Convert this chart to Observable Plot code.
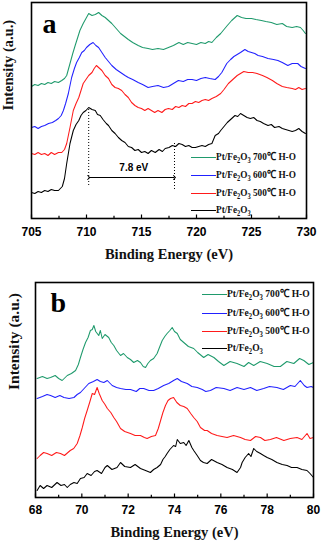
<!DOCTYPE html>
<html><head><meta charset="utf-8">
<script src="https://cdn.jsdelivr.net/npm/d3@7"></script>
<script src="https://cdn.jsdelivr.net/npm/@observablehq/plot@0.6"></script>
<style>
body{margin:0;background:#fff;}
#wrap{position:relative;width:321px;height:542px;overflow:hidden;background:#fff}
.panel{position:absolute;left:0}
.leg{position:absolute;font-family:"Liberation Serif","Times New Roman",serif;font-weight:bold;font-size:11px;white-space:nowrap;height:14px;line-height:14px;color:#111}
.leg .sw{display:inline-block;width:25px;height:1.6px;vertical-align:middle}
.leg .tx{display:inline-block;transform-origin:0 50%}
.leg sub{font-size:0.7em;vertical-align:baseline;position:relative;top:0.35em;line-height:0}
</style></head>
<body><div id="wrap"></div>
<script>
// ---------- Panel a : Fe 2p ----------
const aTicks = [705, 710, 715, 720, 725, 730];
const aMinor = [707.5, 712.5, 717.5, 722.5, 727.5];
const aBlack = [[705.0,26],[705.3,25],[705.6,27],[705.9,26],[706.2,28],[706.5,27],[706.8,29],[707.1,28],[707.45,28],[707.8,32],[708.0,40],[708.2,55],[708.5,75],[708.8,88],[709.05,94],[709.3,98],[709.5,103],[709.7,106],[709.95,108],[710.2,111],[710.5,109],[710.8,108],[711.0,104],[711.25,103],[711.5,99],[711.8,95],[712.0,93],[712.3,88],[712.6,85],[712.9,81],[713.2,78],[713.5,76],[713.8,72],[714.1,71],[714.4,68],[714.7,69],[715.0,66],[715.3,67],[715.6,65],[715.9,68],[716.25,66],[716.6,69],[716.9,67],[717.15,70],[717.5,71],[717.8,73],[718.1,72],[718.4,75],[718.7,74],[719.0,72],[719.3,73],[719.6,71],[719.9,71],[720.2,72],[720.5,73],[720.8,72],[721.1,74],[721.4,75],[721.7,83],[722.0,85],[722.2,88],[722.5,92],[722.8,96],[723.1,99],[723.5,103],[723.75,102],[724.0,105],[724.3,103],[724.6,101],[724.9,100],[725.2,101],[725.5,98],[725.8,97],[726.1,95],[726.5,93],[726.8,94],[727.1,91],[727.5,92],[727.8,90],[728.1,89],[728.4,88],[728.7,87],[729.0,88],[729.3,90],[729.6,87],[729.9,85]];
const aRed = [[705.0,65],[705.3,64],[705.6,66],[705.9,64],[706.2,65],[706.5,63],[706.8,66],[707.1,64],[707.45,66],[707.75,66],[708.0,69],[708.2,75],[708.5,91],[708.8,108],[709.05,115],[709.3,121],[709.5,128],[709.7,135],[709.95,139],[710.2,143],[710.5,146],[710.7,150],[710.9,153],[711.1,151],[711.4,148],[711.7,143],[712.0,140],[712.3,134],[712.6,131],[712.9,130],[713.2,128],[713.5,124],[713.8,121],[714.1,116],[714.4,113],[714.7,111],[715.0,110],[715.3,108],[715.6,110],[715.9,108],[716.2,106],[716.5,108],[716.85,106],[717.15,109],[717.45,110],[717.8,109],[718.1,112],[718.4,111],[718.7,113],[719.0,112],[719.3,115],[719.6,115],[719.9,117],[720.2,116],[720.5,118],[720.8,119],[721.1,118],[721.4,120],[721.8,122],[722.2,125],[722.5,129],[722.9,135],[723.3,139],[723.7,143],[724.0,145],[724.3,147],[724.7,146],[725.1,146],[725.5,145],[726.0,143],[726.4,141],[726.9,138],[727.3,135],[727.8,132],[728.2,131],[728.7,130],[729.0,129],[729.3,131],[729.6,129],[729.9,130]];
const aBlue = [[705.0,91],[705.3,92],[705.6,90],[705.9,92],[706.2,93],[706.55,95],[706.9,96],[707.2,98],[707.45,100],[707.7,103],[707.9,108],[708.1,115],[708.35,125],[708.65,141],[708.9,150],[709.1,156],[709.35,161],[709.57,166],[709.8,168],[710.0,171],[710.3,174],[710.6,176],[710.85,173],[711.1,171],[711.4,166],[711.7,161],[712.0,157],[712.3,153],[712.7,149],[713.1,146],[713.5,143],[713.8,141],[714.2,139],[714.7,136],[715.1,134],[715.6,131],[716.0,132],[716.5,133],[717.0,131],[717.45,132],[717.9,135],[718.35,138],[718.8,137],[719.2,139],[719.6,139],[720.0,138],[720.4,140],[720.8,141],[721.2,140],[721.7,139],[722.0,142],[722.3,146],[722.75,155],[723.1,159],[723.4,162],[723.7,164],[724.0,166],[724.4,169],[724.7,167],[725.0,166],[725.3,165],[725.6,163],[726.0,162],[726.5,160],[727.0,159],[727.4,158],[727.8,156],[728.3,153],[728.7,155],[729.2,155],[729.5,152],[729.9,150]];
const aGreen = [[705.0,132],[705.3,134],[705.6,133],[705.9,135],[706.2,134],[706.5,136],[706.8,135],[707.1,137],[707.45,136],[707.75,138],[708.0,140],[708.2,143],[708.5,155],[708.75,165],[708.97,173],[709.2,181],[709.4,188],[709.7,195],[709.95,200],[710.2,205],[710.5,203],[710.8,204],[711.1,206],[711.4,203],[711.7,201],[712.0,198],[712.3,195],[712.7,190],[713.1,185],[713.45,182],[713.8,179],[714.2,176],[714.7,173],[715.1,171],[715.6,170],[716.0,169],[716.5,170],[717.0,169],[717.45,171],[717.9,173],[718.4,176],[718.8,174],[719.2,176],[719.6,175],[720.0,174],[720.4,176],[720.8,175],[721.1,177],[721.4,176],[721.8,181],[722.2,185],[722.5,189],[722.8,193],[723.2,198],[723.7,203],[724.1,201],[724.5,200],[725.0,200],[725.4,199],[725.9,198],[726.3,197],[726.8,196],[727.3,194],[727.8,195],[728.2,192],[728.7,191],[729.1,192],[729.45,191],[729.7,188],[729.9,185]];
// annotation: satellite separation
const aDotted = [{x: 710.2, y1: 33, y2: 110}, {x: 718.0, y1: 29, y2: 75}];
const aArrow = {x1: 710.2, x2: 718.0, y: 41};
const aArrowLabel = {x: 714.3, y: 48, text: "7.8 eV"};

// ---------- Panel b : Pt 4f ----------
const bTicks = [68, 70, 72, 74, 76, 78, 80];
const bMinor = [69, 71, 73, 75, 77, 79];
const bGreen = [[68.07,119],[68.3,121],[68.5,119],[68.65,120],[68.85,122],[69.0,119],[69.15,117],[69.37,122],[69.55,124],[69.73,127],[69.85,133],[69.94,140],[70.05,148],[70.16,155],[70.27,160],[70.37,167],[70.45,168],[70.52,172],[70.6,166],[70.73,162],[70.8,167],[70.88,159],[71.0,163],[71.16,160],[71.27,155],[71.38,152],[71.5,147],[71.67,142],[71.8,144],[71.96,140],[72.1,138],[72.24,135],[72.4,137],[72.53,135],[72.65,131],[72.75,130],[72.85,134],[72.96,137],[73.1,139],[73.25,144],[73.35,150],[73.47,157],[73.58,161],[73.68,164],[73.8,167],[73.9,170],[74.0,166],[74.12,164],[74.25,158],[74.4,155],[74.6,151],[74.83,149],[75.0,145],[75.26,140],[75.45,143],[75.7,140],[75.9,136],[76.13,132],[76.4,136],[76.7,134],[77.0,131],[77.2,135],[77.42,132],[77.7,136],[78.0,134],[78.3,131],[78.57,131],[78.85,136],[79.15,134],[79.4,139],[79.58,137],[79.8,133],[80.0,135]];
const bBlue = [[68.07,99],[68.3,101],[68.5,103],[68.65,102],[68.85,100],[69.05,102],[69.23,100],[69.45,99],[69.66,100],[69.8,103],[69.94,105],[70.1,109],[70.3,114],[70.5,116],[70.66,118],[70.8,116],[70.95,115],[71.1,117],[71.31,112],[71.5,110],[71.67,109],[71.9,108],[72.1,108],[72.35,106],[72.5,109],[72.67,109],[72.9,107],[73.1,107],[73.3,109],[73.53,112],[73.75,114],[73.96,117],[74.12,119],[74.3,116],[74.55,114],[74.75,111],[74.98,110],[75.2,108],[75.35,106],[75.55,107],[75.8,110],[76.13,109],[76.4,107],[76.7,110],[77.0,108],[77.28,110],[77.55,107],[77.85,109],[78.1,111],[78.42,110],[78.7,108],[79.0,112],[79.2,111],[79.43,117],[79.6,112],[79.72,110],[79.9,111],[80.0,110]];
const bRed = [[68.07,39],[68.2,42],[68.35,45],[68.5,44],[68.7,42],[68.9,45],[69.08,44],[69.25,42],[69.4,45],[69.5,47],[69.65,49],[69.8,54],[69.92,62],[70.02,70],[70.12,79],[70.23,87],[70.35,96],[70.45,104],[70.55,103],[70.66,110],[70.75,104],[70.88,97],[71.0,93],[71.1,89],[71.25,85],[71.38,80],[71.5,76],[71.67,69],[71.85,66],[72.1,64],[72.3,62],[72.53,62],[72.7,60],[72.82,59],[73.0,61],[73.18,62],[73.3,69],[73.4,77],[73.5,85],[73.61,92],[73.72,97],[73.83,99],[73.96,100],[74.1,95],[74.25,92],[74.4,91],[74.55,89],[74.7,84],[74.83,80],[74.98,76],[75.12,70],[75.3,67],[75.41,67],[75.6,64],[75.84,62],[76.05,61],[76.27,60],[76.55,62],[76.85,60],[77.05,58],[77.28,57],[77.5,61],[77.71,60],[77.9,57],[78.14,58],[78.4,60],[78.72,57],[79.0,59],[79.29,60],[79.5,58],[79.72,64],[79.85,59],[80.0,60]];
const bBlack = [[68.07,7],[68.2,12],[68.35,9],[68.5,12],[68.7,10],[68.93,15],[69.1,12],[69.25,13],[69.37,10],[69.5,13],[69.66,15],[69.8,14],[69.94,19],[70.1,20],[70.23,24],[70.4,22],[70.55,26],[70.66,27],[70.85,24],[71.0,30],[71.1,32],[71.3,28],[71.52,30],[71.67,35],[71.85,31],[72.1,30],[72.3,33],[72.53,29],[72.75,27],[72.96,25],[73.1,28],[73.25,30],[73.4,33],[73.5,38],[73.6,41],[73.68,44],[73.8,48],[73.96,52],[74.05,51],[74.12,58],[74.25,54],[74.4,55],[74.5,52],[74.62,57],[74.75,50],[74.83,47],[74.98,42],[75.12,37],[75.25,35],[75.41,34],[75.6,38],[75.84,35],[76.05,33],[76.27,30],[76.5,28],[76.7,25],[76.85,30],[76.92,35],[77.05,40],[77.2,44],[77.3,41],[77.42,49],[77.55,46],[77.71,44],[77.85,42],[78.0,40],[78.2,38],[78.42,35],[78.65,33],[78.86,32],[79.05,30],[79.29,30],[79.5,28],[79.72,27],[79.85,24],[80.0,20]];

const seriesNames = ["700℃ H-O", "600℃ H-O", "500℃ H-O", ""];
const colors = ["#1f9a6c", "#2121ff", "#ff1a1a", "#000000"];
const xTitle = "Binding Energy (eV)";
const yTitle = "Intensity (a.u.)";

const serif = "Liberation Serif, Times New Roman, serif";
const sans = "Liberation Sans, Arial, sans-serif";

function panel({series, ticks, minor, domain, yMax, height, mt, mb, ml, mr, letter, letterDx, letterDy, yDx, titleDy, tickPad, yFont, extra}) {
  const marks = [];
  series.forEach((s, i) => marks.push(Plot.line(s, {x: d => d[0], y: d => d[1], stroke: colors[i], strokeWidth: 1.05})));
  marks.push(...extra);
  marks.push(Plot.ruleX(ticks, {x: d => d, y1: 0, y2: 3.5, stroke: "#000", strokeWidth: 1.2}));
  marks.push(Plot.ruleX(minor, {x: d => d, y1: 0, y2: 2.2, stroke: "#000", strokeWidth: 1.2}));
  marks.push(Plot.frame({stroke: "#000", strokeWidth: 1.6}));
  marks.push(Plot.axisX({ticks, tickSize: 0, tickPadding: tickPad, fontSize: 12, fontWeight: "bold", fontFamily: sans, label: null, tickFormat: d => String(d)}));
  marks.push(Plot.text([xTitle], {frameAnchor: "bottom", dy: titleDy, lineAnchor: "bottom", fontFamily: serif, fontWeight: "bold", fontSize: 14.5, fill: "#111"}));
  marks.push(Plot.text([yTitle], {frameAnchor: "left", dx: yDx, rotate: -90, lineAnchor: "middle", fontFamily: serif, fontWeight: "bold", fontSize: yFont, fill: "#111"}));
  marks.push(Plot.text([letter], {frameAnchor: "top-left", dx: letterDx, dy: letterDy, textAnchor: "start", lineAnchor: "bottom", fontFamily: serif, fontWeight: "bold", fontSize: 28, fill: "#000"}));
  return Plot.plot({
    width: 321, height, marginTop: mt, marginBottom: mb, marginLeft: ml, marginRight: mr,
    style: {background: "transparent", overflow: "visible"},
    x: {domain, axis: null},
    y: {domain: [0, yMax], axis: null},
    marks
  });
}

const wrap = document.getElementById("wrap");

const extraA = [
  Plot.ruleX(aDotted, {x: "x", y1: "y1", y2: "y2", stroke: "#000", strokeWidth: 1, strokeDasharray: "1,2"}),
  Plot.link([aArrow], {x1: "x1", x2: "x2", y1: "y", y2: "y", stroke: "#000", strokeWidth: 1, markerStart: "arrow", markerEnd: "arrow"}),
  Plot.text([aArrowLabel], {x: "x", y: "y", text: "text", lineAnchor: "bottom", fontFamily: sans, fontWeight: "bold", fontSize: 10, fill: "#000"})
];

const pa = panel({series: [aGreen, aBlue, aRed, aBlack], ticks: aTicks, minor: aMinor, domain: [705, 730], yMax: 216,
  height: 270, mt: 2, mb: 52, ml: 31, mr: 15, letter: "a", letterDx: 11, letterDy: 30, yDx: -23, titleDy: 40, tickPad: 9, yFont: 14.5, extra: extraA});
pa.classList.add("panel"); pa.style.top = "0px";
wrap.appendChild(pa);

const pb = panel({series: [bGreen, bBlue, bRed, bBlack], ticks: bTicks, minor: bMinor, domain: [68, 80], yMax: 215,
  height: 272, mt: 12, mb: 45, ml: 35, mr: 8, letter: "b", letterDx: 15, letterDy: 29, yDx: -21, titleDy: 39, tickPad: 7.5, yFont: 15.5, extra: []});
pb.classList.add("panel"); pb.style.top = "270px";
wrap.appendChild(pb);

// legends
function legend(x, rows, scale) {
  rows.forEach((cy, i) => {
    const d = document.createElement("div");
    d.className = "leg";
    d.style.left = x + "px";
    d.style.top = (cy - 7) + "px";
    const sw = document.createElement("span");
    sw.className = "sw"; sw.style.backgroundColor = colors[i];
    d.appendChild(sw);
    const t = document.createElement("span");
    t.className = "tx";
    t.style.transform = "scaleX(" + scale + ")";
    t.innerHTML = "Pt/Fe<sub>2</sub>O<sub>3</sub>" + (seriesNames[i] ? " " + seriesNames[i] : "");
    d.appendChild(t);
    wrap.appendChild(d);
  });
}
legend(191, [156, 174, 192, 209], 0.84);
legend(202, [293, 312, 330, 347], 0.87);
</script></body></html>
